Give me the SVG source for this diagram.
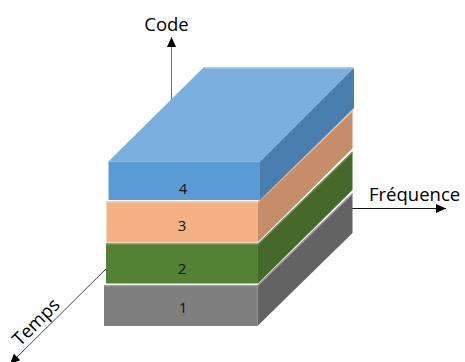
<svg xmlns="http://www.w3.org/2000/svg" width="465" height="362" viewBox="0 0 465 362">
  <defs>
    <marker id="arrow" markerUnits="userSpaceOnUse" markerWidth="11" markerHeight="9" refX="10" refY="4.5" orient="auto">
      <path d="M0,0 L10,4.5 L0,9 z" fill="#000"/>
    </marker>
    <style>
      .axis { fill: none; stroke-width: 1; marker-end: url(#arrow); }
      .lbl { font-family: "Open Sans", "Liberation Sans", sans-serif; font-size: 18.5px; fill: #000; }
      .num { font-family: "Open Sans", "Liberation Sans", sans-serif; font-size: 15px; fill: #111; text-anchor: middle; }
      .edge { fill: none; stroke-width: 1.5; }
    </style>
  </defs>
  <rect width="465" height="362" fill="#fff"/>

  <g id="connectors">
    <line class="axis" x1="171.5" y1="110" x2="171.5" y2="37" stroke="#6f6f6f"/>
    <line class="axis" x1="345" y1="208.5" x2="446" y2="208.5" stroke="#111"/>
    <line class="axis" x1="108" y1="267" x2="10" y2="364" stroke="#444"/>
  </g>

  <g id="layer1">
    <polygon points="257.5,285 352.5,193 352.5,233 257.5,326" fill="#636363"/>
    <rect x="104" y="285" width="153.5" height="41" fill="#7f7f7f"/>
    <polyline class="edge" points="104,285.8 257.5,285.8 352.5,193.8" stroke="#9a9a9a"/>
    <text class="num" x="183" y="313">1</text>
  </g>

  <g id="layer2">
    <polygon points="258,243.5 352.5,151.5 352.5,190 258,283.5" fill="#44692b"/>
    <rect x="106" y="243.5" width="152" height="40" fill="#548235"/>
    <polyline class="edge" points="106,244.3 258,244.3 352.5,152.3" stroke="#6a9650"/>
    <text class="num" x="182" y="274">2</text>
  </g>

  <g id="layer3">
    <polygon points="257.5,201.5 352.5,110 352.5,148.5 257.5,242.5" fill="#c58e68"/>
    <rect x="106.5" y="201.5" width="151" height="41" fill="#f4b183"/>
    <polyline class="edge" points="106.5,202.3 257.5,202.3 352.5,110.8" stroke="#f8c4a0"/>
    <text class="num" x="182" y="231">3</text>
  </g>

  <g id="layer4">
    <polygon points="260,161.5 354,67.5 354,108 260,200" fill="#4a7eaf"/>
    <polygon points="108.5,161.5 203.5,67.5 354,67.5 260,161.5" fill="#7aafde"/>
    <rect x="108.5" y="161.5" width="151.5" height="38.5" fill="#5b9bd5"/>
    <polyline class="edge" points="203.5,68.2 354,68.2" stroke="#9bc3e8"/>
    <text class="num" x="183" y="194">4</text>
  </g>

  <g id="labels">
    <text class="lbl" x="166.5" y="31" text-anchor="middle">Code</text>
    <text class="lbl" x="369" y="201">Fréquence</text>
    <text class="lbl" text-anchor="middle" transform="translate(40.5,326.5) rotate(-45)">Temps</text>
  </g>
</svg>
